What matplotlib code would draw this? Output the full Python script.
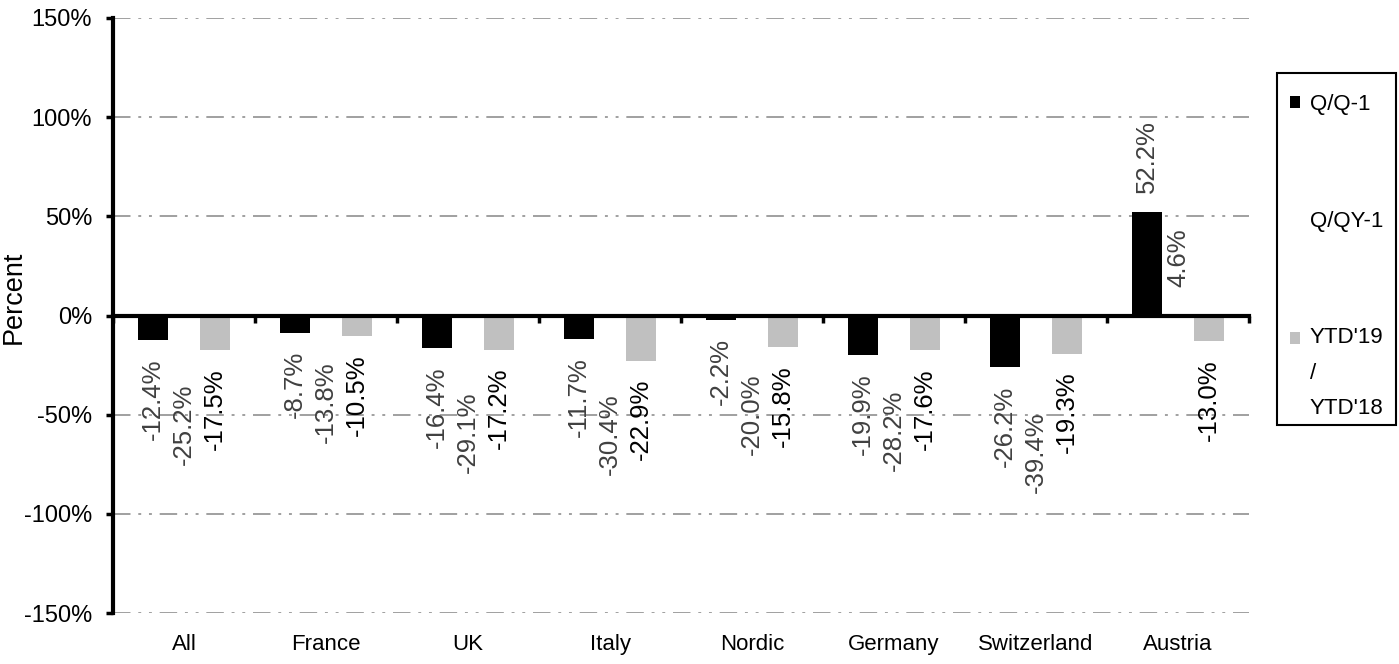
import matplotlib
matplotlib.use("Agg")
import matplotlib.pyplot as plt
from matplotlib.patches import Patch, Rectangle
from matplotlib.legend_handler import HandlerPatch
import numpy as np

# data
categories = ["All", "France", "UK", "Italy", "Nordic", "Germany", "Switzerland", "Austria"]
qq1 = [-12.4, -8.7, -16.4, -11.7, -2.2, -19.9, -26.2, 52.2]
qqy1 = [-25.2, -13.8, -29.1, -30.4, -20.0, -28.2, -39.4, 4.6]
ytd = [-17.5, -10.5, -17.2, -22.9, -15.8, -17.6, -19.3, -13.0]
series_names = ["Q/Q-1", "Q/QY-1", "YTD'19\n/\nYTD'18"]
yticks = [-150, -100, -50, 0, 50, 100, 150]

plt.rcParams['font.family'] = ['Liberation Sans', 'DejaVu Sans']
fs = 16


class TopHandler(HandlerPatch):
    # puts the legend square next to the first line of a multi-line label
    def __init__(self, shift, **kw):
        super().__init__(**kw)
        self.shift = shift

    def create_artists(self, legend, orig_handle, xdescent, ydescent, width, height, fontsize, trans):
        p = Rectangle((-xdescent, -ydescent + self.shift), width, height)
        self.update_prop(p, orig_handle, legend)
        p.set_transform(trans)
        return [p]


fig = plt.figure(figsize=(13.99, 6.64), dpi=100)
ax = fig.add_axes([113 / 1399, 51 / 664, (1249 - 113) / 1399, (613 - 18) / 664])

x = np.arange(len(categories))
step = 0.22
width = 0.21
series = [qq1, qqy1, ytd]
colors = ["black", "white", "#c0c0c0"]
label_colors = ["#404040", "#404040", "black"]

for i, (vals, col) in enumerate(zip(series, colors)):
    pos = x + (i - 1) * step
    ax.bar(pos, vals, width, color=col, zorder=2)
    for px, v in zip(pos, vals):
        off = 14 if v >= 0 else -13
        ax.annotate(f"{v:.1f}%", (px, v), xytext=(0, off), textcoords="offset points",
                    rotation=90, ha="center", va="bottom" if v >= 0 else "top",
                    fontsize=18.5, color=label_colors[i], zorder=4)

ax.set_xlim(-0.5, len(categories) - 0.5)
ax.set_ylim(-150, 150)
ax.set_yticks(yticks)
ax.set_yticklabels([f"{v}%" for v in yticks], fontsize=17)
ax.yaxis.grid(True, color="#a0a0a0", linewidth=1.4, linestyle=(0, (9, 4, 1.5, 4, 1.5, 4)))
ax.set_axisbelow(True)

for s in ["top", "right"]:
    ax.spines[s].set_visible(False)
ax.spines["left"].set_linewidth(3)
ax.spines["bottom"].set_position(("data", 0))
ax.spines["bottom"].set_linewidth(3)
ax.spines["bottom"].set_zorder(3)

ax.set_xticks(np.arange(-0.5, len(categories), 1.0))
ax.set_xticklabels([])
ax.tick_params(axis="x", direction="out", length=5, width=2.5)
ax.tick_params(axis="y", direction="out", length=5, width=2.5, pad=10)

sec = ax.secondary_xaxis("bottom")
sec.set_xticks(x)
sec.set_xticklabels(categories, fontsize=fs)
sec.tick_params(length=0, pad=15)
sec.spines["bottom"].set_visible(False)

ax.set_ylabel("Percent", fontsize=19.5)
ax.yaxis.set_label_coords(-0.0757, 0.53)

# legend without its own frame; the box is drawn separately
handles = [Patch(facecolor=c, edgecolor="none") for c in colors]
leg = fig.legend(handles, series_names, loc="upper left",
                 bbox_to_anchor=(1290 / 1399, 1 - 94 / 664),
                 borderaxespad=0, fontsize=fs, frameon=False,
                 handlelength=0.45, handleheight=0.45, handletextpad=0.45,
                 labelspacing=4.3, borderpad=0,
                 handler_map={handles[2]: TopHandler(25.5)})
for t in leg.get_texts():
    t.set_linespacing(1.9)

fig.add_artist(Rectangle((1277 / 1399, 1 - 425 / 664), (1396 - 1277) / 1399, (425 - 73) / 664,
                         transform=fig.transFigure, fill=False, edgecolor="black", linewidth=1.5))

fig.savefig("out.png", dpi=100)
